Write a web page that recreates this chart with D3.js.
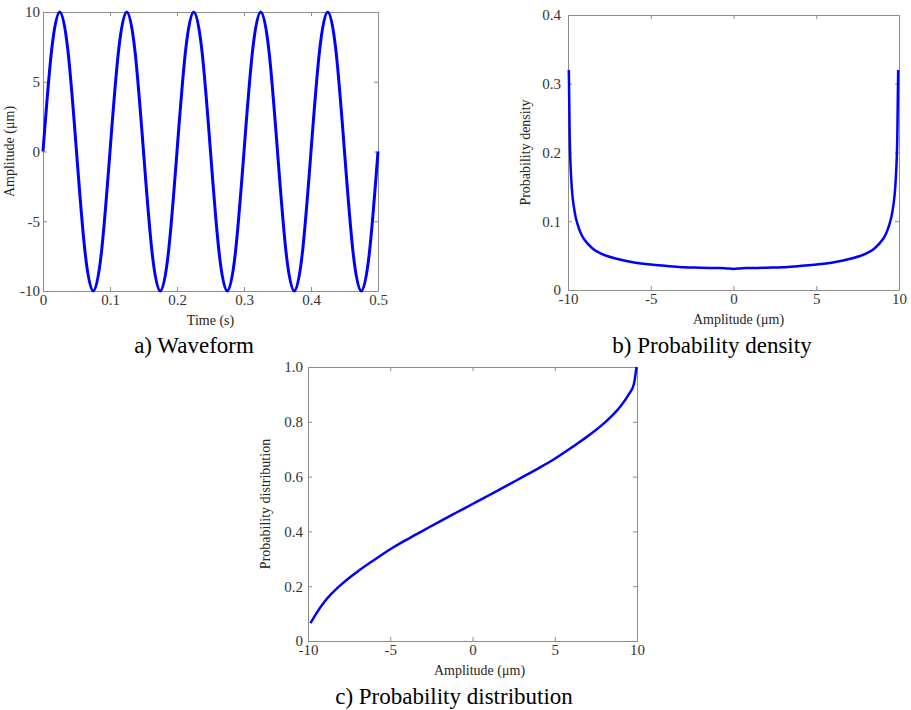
<!DOCTYPE html>
<html>
<head>
<meta charset="utf-8">
<script src="https://cdn.jsdelivr.net/npm/d3@7"></script>
<style>
  body { margin: 0; background: #fff; }
  .axis path, .axis line { stroke: #8c8c8c; }
</style>
</head>
<body>
<svg id="chart" width="911" height="710"></svg>
<script>
var SERIF = "Liberation Serif";

// a) waveform, read at every 1/8 period
var WAVE_T = [0, 0.0125, 0.025, 0.0375, 0.05, 0.0625, 0.075, 0.0875,
  0.1, 0.1125, 0.125, 0.1375, 0.15, 0.1625, 0.175, 0.1875,
  0.2, 0.2125, 0.225, 0.2375, 0.25, 0.2625, 0.275, 0.2875,
  0.3, 0.3125, 0.325, 0.3375, 0.35, 0.3625, 0.375, 0.3875,
  0.4, 0.4125, 0.425, 0.4375, 0.45, 0.4625, 0.475, 0.4875, 0.5];
var WAVE_AMP = [0, 7.1, 10, 7.1, 0, -7.1, -10, -7.1,
  0, 7.1, 10, 7.1, 0, -7.1, -10, -7.1,
  0, 7.1, 10, 7.1, 0, -7.1, -10, -7.1,
  0, 7.1, 10, 7.1, 0, -7.1, -10, -7.1,
  0, 7.1, 10, 7.1, 0, -7.1, -10, -7.1, 0];

// b) probability density
var DENS_X = [-9.95, -9.9, -9.8, -9.6, -9.4, -9.2, -9, -8.5, -8, -7, -6, -5, -4, -3, -2, -1, -0.5, 0,
  0.5, 1, 2, 3, 4, 5, 6, 7, 8, 8.5, 9, 9.2, 9.4, 9.6, 9.8, 9.9, 9.95];
var DENS_P = [0.32, 0.226, 0.16, 0.114, 0.094, 0.081, 0.073, 0.06, 0.053, 0.045, 0.04, 0.037, 0.035, 0.033, 0.0325, 0.032, 0.0318, 0.0305,
  0.0318, 0.032, 0.0325, 0.033, 0.035, 0.037, 0.04, 0.045, 0.053, 0.06, 0.073, 0.081, 0.094, 0.114, 0.16, 0.226, 0.32];

// c) probability distribution
var DIST_X = [-9.85, -9.5, -9, -8, -7, -6, -5, -4, -3, -2, -1, 0, 1, 2, 3, 4, 5, 6, 7, 8, 9, 9.5, 9.8, 9.97];
var DIST_F = [0.065, 0.1, 0.143, 0.205, 0.253, 0.295, 0.335, 0.37, 0.403, 0.436, 0.468, 0.5, 0.532, 0.564, 0.597, 0.63, 0.665, 0.705, 0.747, 0.795, 0.857, 0.9, 0.935, 1.0];

var TIME_TICKS = [0, 0.1, 0.2, 0.3, 0.4, 0.5];
var AMP_TICKS = [-10, -5, 0, 5, 10];
var DENS_TICKS = [0, 0.1, 0.2, 0.3, 0.4];
var DIST_TICKS = [0, 0.2, 0.4, 0.6, 0.8, 1.0];

var svg = d3.select("#chart");

function zeroOr(fmt) {
  return function(d) { return d === 0 ? "0" : fmt(d); };
}

function drawPanel(p) {
  var x = d3.scaleLinear().domain(p.xDomain).range([p.left, p.right]);
  var y = d3.scaleLinear().domain(p.yDomain).range([p.bottom, p.top]);
  var g = svg.append("g");
  var tk = 4;

  g.append("g").attr("class", "axis")
    .attr("transform", "translate(0," + p.bottom + ")")
    .call(d3.axisBottom(x).tickValues(p.xTicks).tickFormat(p.xFormat).tickSizeInner(-tk).tickSizeOuter(0).tickPadding(3));
  g.append("g").attr("class", "axis")
    .attr("transform", "translate(0," + p.top + ")")
    .call(d3.axisTop(x).tickValues(p.xTicks).tickFormat("").tickSizeInner(-tk).tickSizeOuter(0));
  g.append("g").attr("class", "axis")
    .attr("transform", "translate(" + p.left + ",0)")
    .call(d3.axisLeft(y).tickValues(p.yTicks).tickFormat(p.yFormat).tickSizeInner(-tk).tickSizeOuter(0).tickPadding(p.yPad));
  g.append("g").attr("class", "axis")
    .attr("transform", "translate(" + p.right + ",0)")
    .call(d3.axisRight(y).tickValues(p.yTicks).tickFormat("").tickSizeInner(-tk).tickSizeOuter(0));
  g.selectAll(".axis").attr("font-family", SERIF).attr("font-size", 15);
  g.selectAll(".axis text").attr("fill", "#333");

  var pts = p.xs.map(function(v, i) { return [v, p.ys[i]]; });
  g.append("path")
    .datum(pts)
    .attr("fill", "none")
    .attr("stroke", "#0000ff")
    .attr("stroke-width", p.lineWidth)
    .attr("stroke-linejoin", "round")
    .attr("d", d3.line().curve(p.curve)
      .x(function(d) { return x(d[0]); })
      .y(function(d) { return y(d[1]); }));

  g.append("text")
    .attr("font-family", SERIF).attr("font-size", 14).attr("fill", "#2a2320")
    .attr("x", (p.left + p.right) / 2 + p.xLabelShift)
    .attr("y", p.bottom + 34)
    .attr("text-anchor", "middle")
    .text(p.xLabel);
  g.append("text")
    .attr("font-family", SERIF).attr("font-size", 14).attr("fill", "#2a2320")
    .attr("transform", "translate(" + (p.left + p.yLabelDx) + "," + ((p.top + p.bottom) / 2) + ") rotate(-90)")
    .attr("text-anchor", "middle")
    .text(p.yLabel);
  g.append("text")
    .attr("font-family", SERIF).attr("font-size", 23).attr("fill", "#000")
    .attr("x", p.capX)
    .attr("y", p.capY)
    .attr("text-anchor", "middle")
    .text(p.caption);
}

drawPanel({
  left: 43, right: 378, top: 12, bottom: 291,
  xDomain: [0, 0.5], yDomain: [-10, 10],
  xTicks: TIME_TICKS, yTicks: AMP_TICKS,
  xFormat: zeroOr(String), yFormat: String, yPad: 3,
  xs: WAVE_T, ys: WAVE_AMP, curve: d3.curveNatural, lineWidth: 3,
  xLabel: "Time (s)", yLabel: "Amplitude (\u03bcm)", xLabelShift: 0, yLabelDx: -29,
  caption: "a) Waveform", capX: 194, capY: 353
});

drawPanel({
  left: 568, right: 899, top: 15, bottom: 290,
  xDomain: [-10, 10], yDomain: [0, 0.4],
  xTicks: AMP_TICKS, yTicks: DENS_TICKS,
  xFormat: String, yFormat: zeroOr(d3.format(".1f")), yPad: 7,
  xs: DENS_X, ys: DENS_P, curve: d3.curveMonotoneX, lineWidth: 2.5,
  xLabel: "Amplitude (\u03bcm)", yLabel: "Probability density", xLabelShift: 5, yLabelDx: -38,
  caption: "b) Probability density", capX: 712, capY: 353
});

drawPanel({
  left: 308, right: 637, top: 367, bottom: 641,
  xDomain: [-10, 10], yDomain: [0, 1],
  xTicks: AMP_TICKS, yTicks: DIST_TICKS,
  xFormat: String, yFormat: zeroOr(d3.format(".1f")), yPad: 5,
  xs: DIST_X, ys: DIST_F, curve: d3.curveMonotoneX, lineWidth: 2.5,
  xLabel: "Amplitude (\u03bcm)", yLabel: "Probability distribution", xLabelShift: 7, yLabelDx: -38,
  caption: "c) Probability distribution", capX: 454, capY: 704
});
</script>
</body>
</html>
